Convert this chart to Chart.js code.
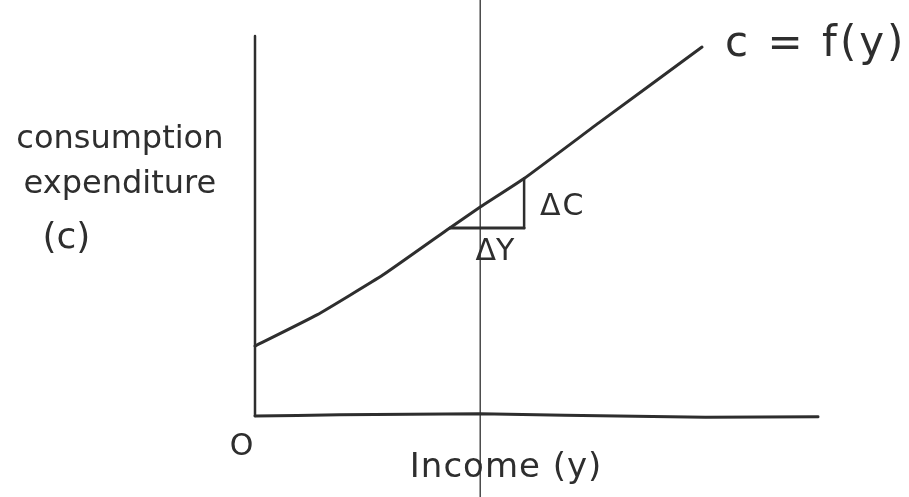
<!DOCTYPE html>
<html>
<head>
<meta charset="utf-8">
<script src="https://cdn.jsdelivr.net/npm/chart.js@4.4.0/dist/chart.umd.js"></script>
<style>
  html, body { margin: 0; padding: 0; background: #fff; }
  #wrap { width: 909px; height: 497px; }
</style>
</head>
<body>
<div id="wrap"><canvas id="chart"></canvas></div>
<script>
// consumption function c = f(y) (income, consumption)
const incomeValues = [0, 11, 22.7, 34.6, 40, 47.8, 61.3, 79.4];
const consumptionValues = [18.4, 26.6, 37.1, 49.5, 55, 62.5, 77.4, 97.1];

// slope triangle: dY along the bottom, dC up the side
const deltaYIncome = [34.6, 47.8];
const deltaYLevel = [49.5, 49.5];
const deltaCIncome = [47.8, 47.8];
const deltaCLevel = [49.5, 62.5];

// axes as drawn (the income axis wobbles a bit)
const xAxisIncome = [0, 15, 40, 55, 80, 100];
const xAxisLevel = [0, 0.3, 0.6, 0.2, -0.3, -0.2];
const yAxisIncome = [0, 0];
const yAxisLevel = [0, 100];

// thin vertical guide through the page
const guideIncome = [40, 40];
const guideLevel = [-22, 110];

const toPoints = (xs, ys) => xs.map((x, i) => ({ x, y: ys[i] }));

const ink = '#2e2e2e';

// text written on the sketch
const notes = [
  { text: 'c = f(y)', x: 83.5, y: 97.6, size: 42, align: 'left', spacing: 3 },
  { text: 'ΔC', x: 50.6, y: 55, size: 30, align: 'left', spacing: 2 },
  { text: 'ΔY', x: 42.6, y: 43.2, size: 30, align: 'center', spacing: 0 },
  { text: 'O', x: -2.4, y: -8.2, size: 30, align: 'center', spacing: 0 },
  { text: 'Income (y)', x: 44.6, y: -13.8, size: 34, align: 'center', spacing: 1 },
  { text: 'consumption', x: -24, y: 72.6, size: 32, align: 'center', spacing: 0 },
  { text: 'expenditure', x: -24, y: 60.8, size: 32, align: 'center', spacing: 0 },
  { text: '(c)', x: -33.5, y: 46.8, size: 36, align: 'center', spacing: 0 }
];

const notesPlugin = {
  id: 'notes',
  afterDatasetsDraw(chart) {
    const { ctx, scales: { x, y } } = chart;
    ctx.save();
    ctx.fillStyle = ink;
    ctx.textBaseline = 'middle';
    notes.forEach(n => {
      ctx.font = `${n.size}px "DejaVu Sans", sans-serif`;
      ctx.letterSpacing = `${n.spacing}px`;
      ctx.textAlign = n.align;
      ctx.fillText(n.text, x.getPixelForValue(n.x), y.getPixelForValue(n.y));
    });
    ctx.restore();
  }
};

const lineSet = (data, width) => ({
  data,
  showLine: true,
  borderColor: ink,
  borderWidth: width,
  pointRadius: 0,
  tension: 0.12,
  clip: false,
  borderCapStyle: 'round'
});

new Chart(document.getElementById('chart'), {
  type: 'scatter',
  data: {
    datasets: [
      lineSet(toPoints(guideIncome, guideLevel), 1.3),
      lineSet(toPoints(yAxisIncome, yAxisLevel), 2.5),
      lineSet(toPoints(xAxisIncome, xAxisLevel), 3),
      lineSet(toPoints(incomeValues, consumptionValues), 3),
      lineSet(toPoints(deltaYIncome, deltaYLevel), 3),
      lineSet(toPoints(deltaCIncome, deltaCLevel), 2.5)
    ]
  },
  options: {
    responsive: true,
    maintainAspectRatio: false,
    animation: false,
    layout: { padding: { left: 255, right: 91, top: 36, bottom: 81 } },
    plugins: {
      legend: { display: false },
      tooltip: { enabled: false }
    },
    scales: {
      x: { type: 'linear', min: 0, max: 100, display: false },
      y: { type: 'linear', min: 0, max: 100, display: false }
    }
  },
  plugins: [notesPlugin]
});
</script>
</body>
</html>
